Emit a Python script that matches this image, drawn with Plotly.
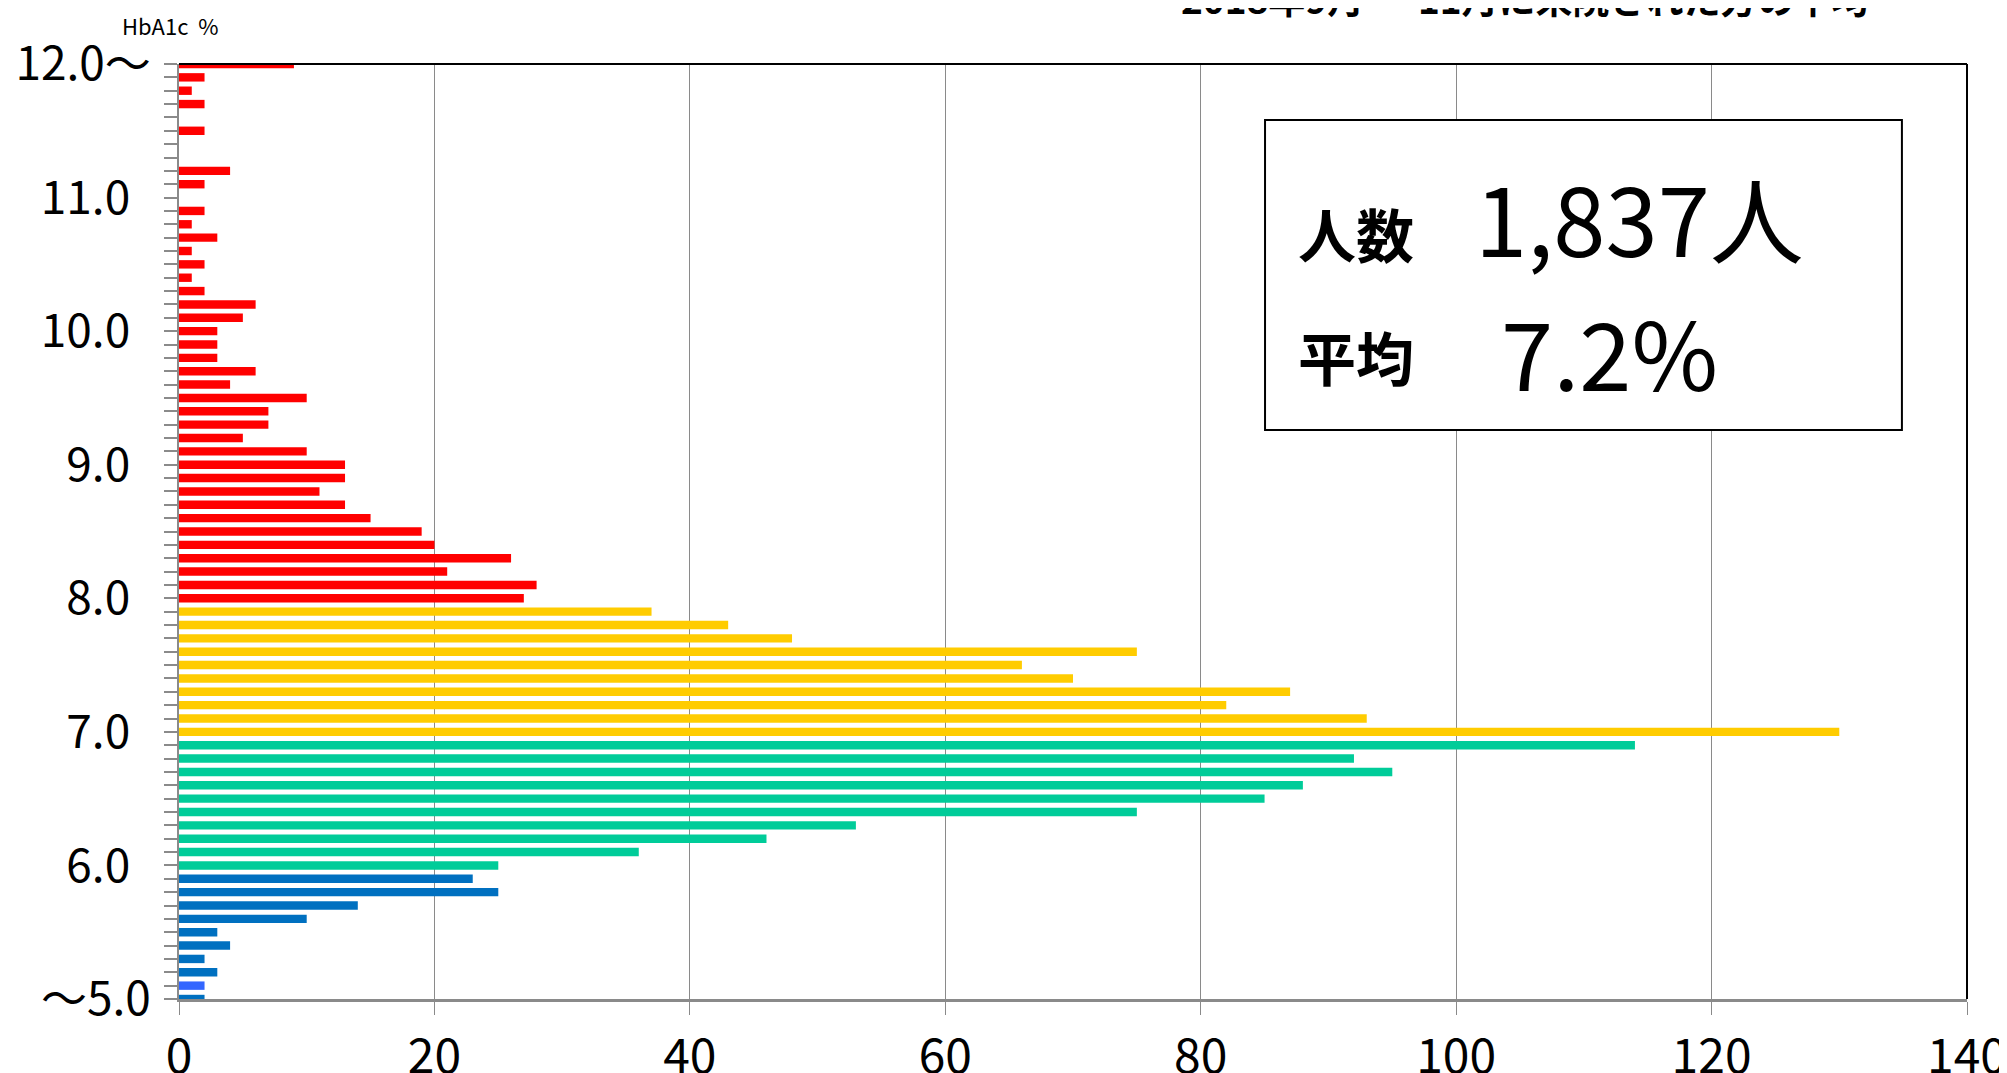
"""
HbA1c distribution chart (horizontal bar histogram) for Sep-Nov 2018 patients.
"""

import plotly.graph_objects as go

# HbA1c levels, top (12.0 and above) to bottom (5.0 and below)
HBA1C_LEVELS = [
    12.0, 11.9, 11.8, 11.7, 11.6, 11.5, 11.4, 11.3, 11.2, 11.1,
    11.0, 10.9, 10.8, 10.7, 10.6, 10.5, 10.4, 10.3, 10.2, 10.1,
    10.0, 9.9, 9.8, 9.7, 9.6, 9.5, 9.4, 9.3, 9.2, 9.1,
    9.0, 8.9, 8.8, 8.7, 8.6, 8.5, 8.4, 8.3, 8.2, 8.1,
    8.0, 7.9, 7.8, 7.7, 7.6, 7.5, 7.4, 7.3, 7.2, 7.1,
    7.0, 6.9, 6.8, 6.7, 6.6, 6.5, 6.4, 6.3, 6.2, 6.1,
    6.0, 5.9, 5.8, 5.7, 5.6, 5.5, 5.4, 5.3, 5.2, 5.1,
    5.0,
]

# number of patients per level (same order)
PATIENT_COUNTS = [
    9, 2, 1, 2, 0, 2, 0, 0, 4, 2,
    0, 2, 1, 3, 1, 2, 1, 2, 6, 5,
    3, 3, 3, 6, 4, 10, 7, 7, 5, 10,
    13, 13, 11, 13, 15, 19, 20, 26, 21, 28,
    27, 37, 43, 48, 75, 66, 70, 87, 82, 93,
    130, 114, 92, 95, 88, 85, 75, 53, 46, 36,
    25, 23, 25, 14, 10, 3, 4, 2, 3, 2,
    2,
]

# labelled y ticks (plain ones padded so they sit left of the "～" ones)
Y_TICK_LABELS = {
    12.0: "12.0～", 11.0: "11.0\u00a0\u00a0", 10.0: "10.0\u00a0\u00a0",
    9.0: "9.0\u00a0\u00a0", 8.0: "8.0\u00a0\u00a0", 7.0: "7.0\u00a0\u00a0",
    6.0: "6.0\u00a0\u00a0", 5.0: "～5.0",
}

X_TICKS = [0, 20, 40, 60, 80, 100, 120, 140]

SUBTITLE = "2018年9月 ～ 11月に来院された方の平均"
MEAN_HBA1C = 7.2

FONT_JP = "Noto Sans CJK JP"
AXIS_GREY = "#8a8a8a"


def band_color(level):
    """Colour band used for each HbA1c range."""
    if level == 5.1:
        return "#3366FF"
    if level >= 8.0:
        return "#FF0000"
    if level >= 7.0:
        return "#FFCC00"
    if level >= 6.0:
        return "#00CC99"
    return "#0070C0"


fig = go.Figure()
fig.add_trace(go.Bar(
    x=PATIENT_COUNTS,
    y=HBA1C_LEVELS,
    orientation="h",
    width=0.063,
    marker={"color": [band_color(v) for v in HBA1C_LEVELS], "line": {"width": 0}},
    hovertemplate="HbA1c %{y}: %{x}人<extra></extra>",
))

# the page body adds an 8px offset, so margins are set to land the plot
# area where the reference has it
fig.update_layout(
    width=2007, height=1073,
    margin={"l": 171, "r": 48, "t": 56, "b": 82, "autoexpand": False},
    paper_bgcolor="white", plot_bgcolor="white",
    showlegend=False,
    font={"family": FONT_JP, "color": "black"},
)

fig.update_xaxes(
    range=[0, 140], tickvals=X_TICKS,
    showgrid=True, gridcolor=AXIS_GREY, gridwidth=1,
    zeroline=False,
    ticks="outside", ticklen=13, tickcolor=AXIS_GREY, tickwidth=1,
    showline=True, linecolor=AXIS_GREY, linewidth=3,
    tickfont={"size": 48, "family": FONT_JP},
    ticklabelstandoff=0,
)

fig.update_yaxes(
    range=[5.0, 12.0],
    tickvals=HBA1C_LEVELS,
    ticktext=[Y_TICK_LABELS.get(v, "") for v in HBA1C_LEVELS],
    showgrid=False, zeroline=False,
    ticks="outside", ticklen=13, tickcolor=AXIS_GREY, tickwidth=2,
    showline=True, linecolor=AXIS_GREY, linewidth=2,
    tickfont={"size": 46, "family": FONT_JP},
    ticklabelstandoff=4,
)

# black top and right border of the plot area
fig.add_shape(type="line", xref="paper", yref="paper", x0=0, x1=1, y0=1, y1=1,
              line={"color": "black", "width": 2})
fig.add_shape(type="line", xref="paper", yref="paper", x0=1, x1=1, y0=0, y1=1,
              line={"color": "black", "width": 2})

# summary box
fig.add_shape(type="rect", xref="paper", yref="paper",
              x0=0.6074, x1=0.9636, y0=0.6086, y1=0.9401,
              line={"color": "black", "width": 2}, fillcolor="white", layer="above")

annotations = [
    {"text": "HbA1c  %", "x": -0.0045, "y": 1.042, "size": 22, "bold": False},
    {"text": SUBTITLE, "x": 0.753, "y": 1.071, "size": 37, "bold": True},
    {"text": "人数", "x": 0.658, "y": 0.8193, "size": 58, "bold": True},
    {"text": f"{sum(PATIENT_COUNTS):,}人", "x": 0.8171, "y": 0.8374, "size": 94, "bold": False},
    {"text": "平均", "x": 0.658, "y": 0.6877, "size": 58, "bold": True},
    {"text": f"{MEAN_HBA1C}%", "x": 0.8, "y": 0.6941, "size": 94, "bold": False},
]
for ann in annotations:
    text = f"<b>{ann['text']}</b>" if ann["bold"] else ann["text"]
    fig.add_annotation(
        text=text, xref="paper", yref="paper", x=ann["x"], y=ann["y"],
        xanchor="center", yanchor="middle", showarrow=False,
        font={"size": ann["size"], "family": FONT_JP, "color": "black"},
    )

fig.write_html("out.html")
